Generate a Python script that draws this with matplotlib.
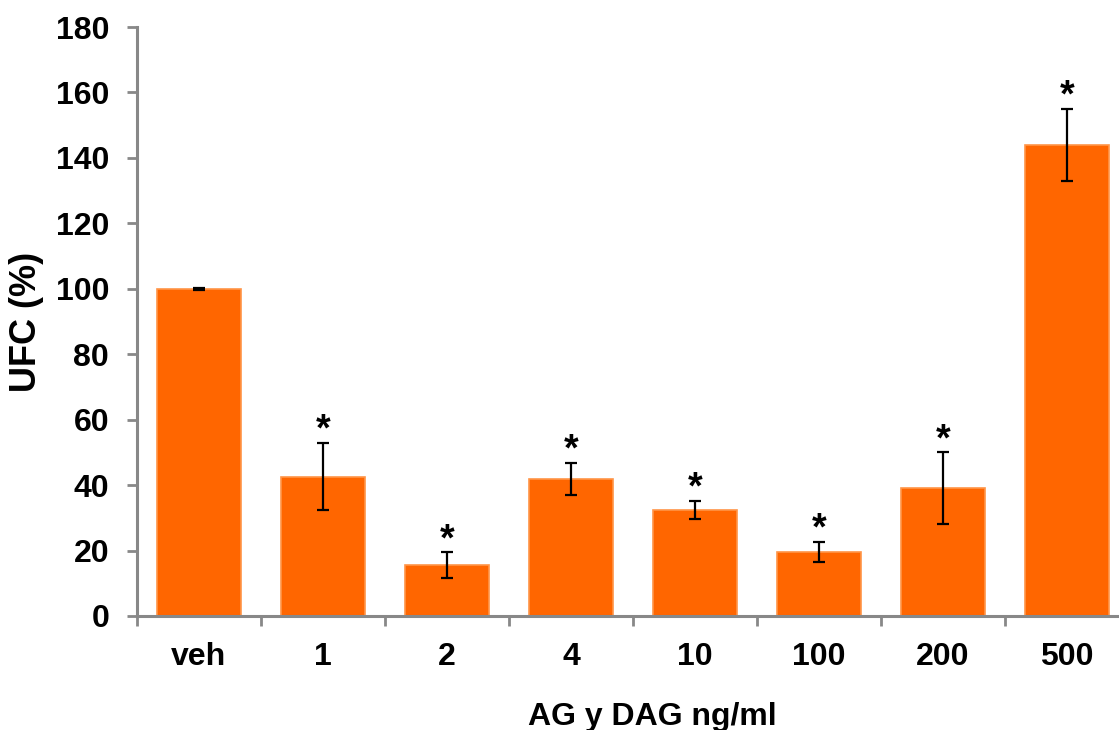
import matplotlib
matplotlib.use("Agg")
import matplotlib.pyplot as plt
import numpy as np

# dados: UFC (%) por concentração
categorias = ["veh", "1", "2", "4", "10", "100", "200", "500"]
ufc = [100.0, 42.6, 15.6, 41.9, 32.4, 19.5, 39.0, 144.0]
erro = [0.3, 10.3, 3.9, 5.0, 2.8, 3.1, 11.0, 11.0]
significativo = [False, True, True, True, True, True, True, True]

plt.rcParams["font.family"] = ["Liberation Sans", "DejaVu Sans"]
plt.rcParams["font.weight"] = "bold"

cor_barra = "#FF6600"
cor_borda = "#FF9548"
cor_eixo = "#888888"

fig = plt.figure(figsize=(11.19, 7.30), dpi=100)
ax = fig.add_axes([0.1224, 0.1562, 0.8865, 0.8068])

x = np.arange(len(categorias))
ax.bar(x, ufc, width=0.68, color=cor_barra, edgecolor=cor_borda, linewidth=1.2, zorder=2)
ax.errorbar(x, ufc, yerr=erro, fmt="none", ecolor="black", elinewidth=1.6,
            capsize=4.5, capthick=1.6, zorder=3)

# asteriscos acima das barras de erro
for xi, v, e, s in zip(x, ufc, erro, significativo):
    if s:
        ax.annotate("*", xy=(xi, v + e), xytext=(0, 1.5), textcoords="offset points",
                    ha="center", va="baseline", fontsize=27, fontweight="bold")

ax.set_xlim(-0.5, len(categorias) - 0.5)
ax.set_ylim(0, 180)
ax.set_yticks(np.arange(0, 181, 20))
ax.tick_params(axis="y", labelsize=23, length=7, width=2, color=cor_eixo, pad=13)

ax.set_xticks(x)
ax.set_xticklabels(categorias)
ax.set_xticks(np.arange(len(categorias) + 1) - 0.5, minor=True)
ax.tick_params(axis="x", which="major", length=0, labelsize=23, pad=19)
ax.tick_params(axis="x", which="minor", length=7, width=2, color=cor_eixo)

for lado in ["top", "right"]:
    ax.spines[lado].set_visible(False)
for lado in ["left", "bottom"]:
    ax.spines[lado].set_color(cor_eixo)
    ax.spines[lado].set_linewidth(2.2)
ax.spines["left"].set_zorder(4)

ax.set_ylabel("UFC (%)", fontsize=26, fontweight="bold")
ax.yaxis.set_label_coords(-0.094, 0.5)
ax.set_xlabel("AG y DAG ng/ml", fontsize=23, fontweight="bold")
ax.xaxis.set_label_coords(0.52, -0.146)

fig.savefig("out.png", dpi=100)
